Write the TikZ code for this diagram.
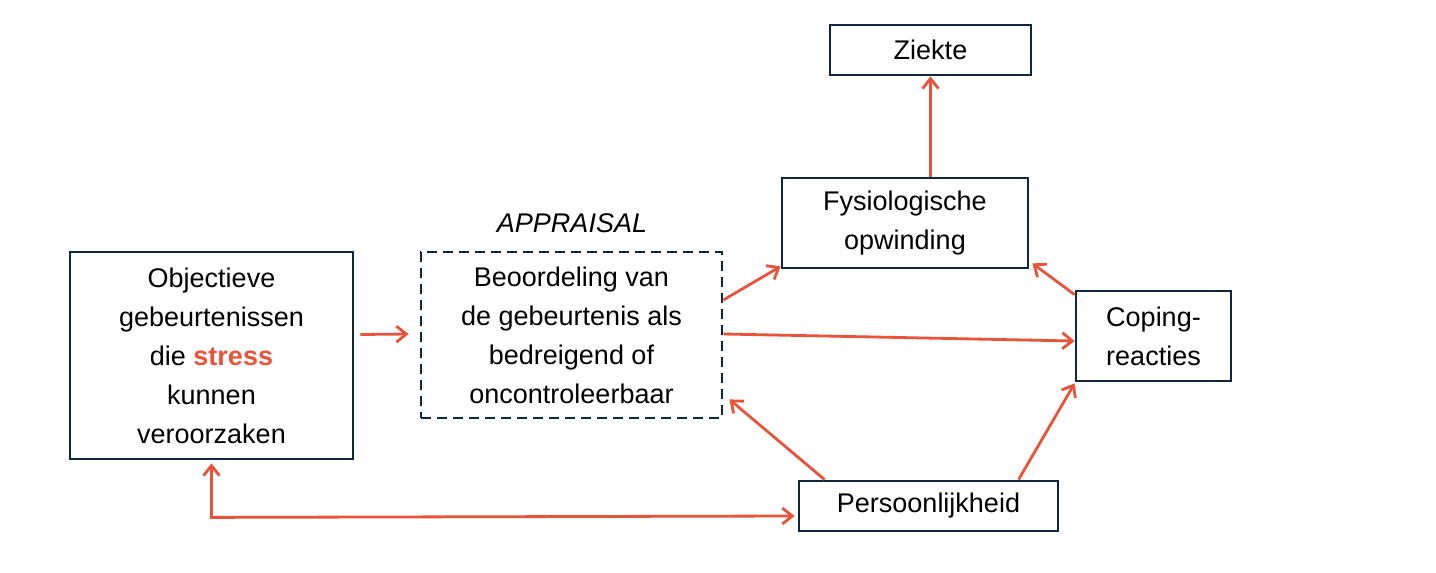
\documentclass[tikz,border=0pt]{standalone}
\usepackage{fontspec}
\setmainfont{Liberation Sans}
\usetikzlibrary{arrows.meta,calc}
\definecolor{navy}{HTML}{0E2841}
\definecolor{ared}{HTML}{E8533A}
\begin{document}
\begin{tikzpicture}[x=0.5pt,y=-0.5pt,
  box/.style={draw=navy,line width=1.4pt,inner sep=0pt,align=center,font=\fontsize{13.5}{19.5}\selectfont,text=black},
  arr/.style={draw=ared,line width=1.4pt,-{Straight Barb[length=5pt,width=8pt]}}]
\useasboundingbox (0,0) rectangle (1436,573);
\node[box,minimum width=100.5pt,minimum height=25pt] (zk) at (930.5,50) {Ziekte};
\node[box,minimum width=123pt,minimum height=45pt] (fys) at (905,223) {Fysiologische\\opwinding};
\node[box,minimum width=77.5pt,minimum height=45pt] (cop) at (1153.5,336) {Coping-\\reacties};
\node[box,minimum width=141.5pt,minimum height=103.5pt] (obj) at (211.5,355.5) {Objectieve\\gebeurtenissen\\die \textcolor{ared}{\textbf{stress}}\\kunnen\\veroorzaken};
\node[box,dashed,dash pattern=on 5pt off 3pt,minimum width=150.5pt,minimum height=83pt] (app) at (571.5,335) {Beoordeling van\\de gebeurtenis als\\bedreigend of\\oncontroleerbaar};
\node[font=\fontsize{13.5}{16}\selectfont\itshape,anchor=south] (lab) at (572,240) {APPRAISAL};
\node[box,minimum width=129.5pt,minimum height=25pt] (per) at (928.5,506) {Persoonlijkheid};
\draw[arr] ($(obj.east)+(6,-21)$) -- ($(app.west)+(-11,-1)$);
\draw[arr] ($(app.east)+(0,-35)$) -- ($(fys.south west)+(0,-3)$);
\draw[arr] ($(app.east)+(0,-1)$) -- ($(cop.west)+(0,5)$);
\draw[arr] (fys.north -| zk.south) -- (zk.south);
\draw[arr] ($(cop.north west)+(0,5)$) -- ($(fys.south east)+(3,-6)$);
\draw[arr] ($(per.north west)+(27,0)$) -- ($(app.south east)+(6,-20)$);
\draw[arr] ($(per.north west)+(221,0)$) -- ($(cop.south west)+(0,1)$);
\draw[arr,{Straight Barb[length=5pt,width=8pt]}-{Straight Barb[length=5pt,width=8pt]}] ($(obj.south)+(0,3)$) -- ($(obj.south)+(0,57)$) -- ($(per.west)+(-3,10)$);
\end{tikzpicture}
\end{document}
